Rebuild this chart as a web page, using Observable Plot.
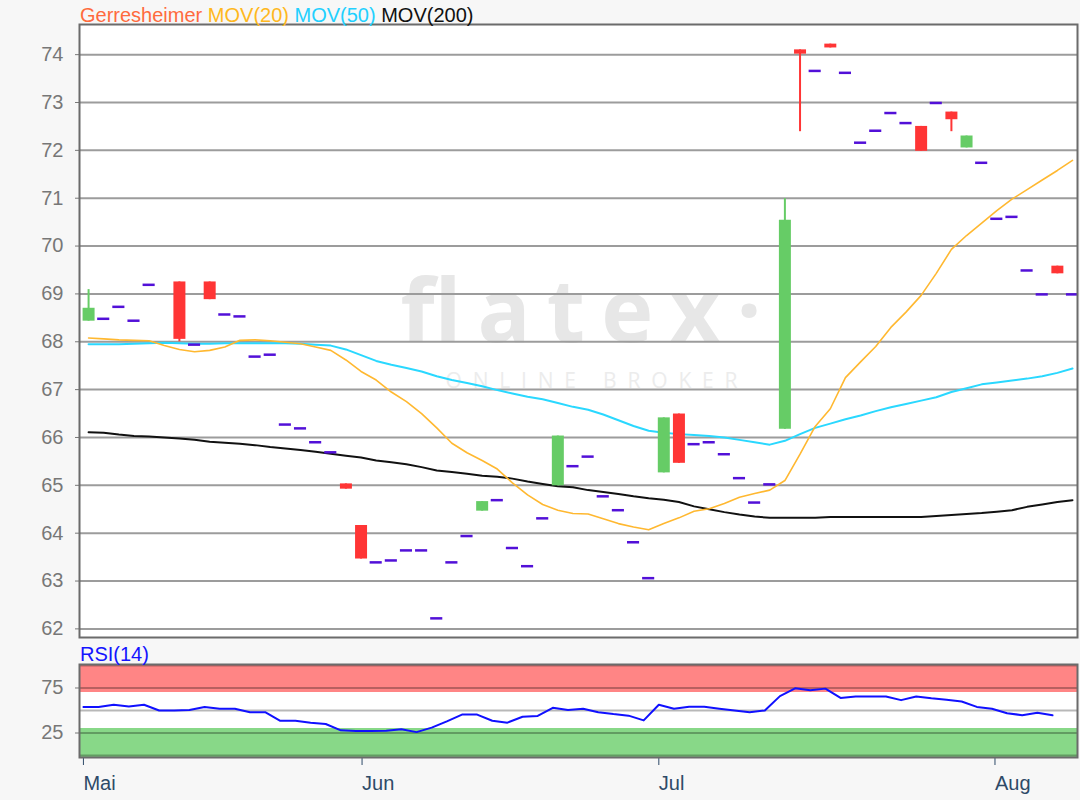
<!DOCTYPE html>
<html><head><meta charset="utf-8">
<script src="https://cdn.jsdelivr.net/npm/d3@7"></script>
<script src="https://cdn.jsdelivr.net/npm/@observablehq/plot@0.6"></script>
<style>
html,body{margin:0;padding:0;background:#f7f7f7;}
#root{position:relative;width:1080px;height:800px;font-family:"Liberation Sans",Arial,sans-serif;overflow:hidden;}
#main{position:absolute;left:0;top:0;}
#rsi{position:absolute;left:0;top:645px;}
#legend{position:absolute;left:80px;top:3px;font-size:20px;line-height:24px;white-space:nowrap;}
#rsilabel{position:absolute;left:80px;top:642px;font-size:20px;line-height:24px;color:#1414ff;}
</style></head>
<body><div id="root">
<div id="main"></div><div id="rsi"></div>
<div id="legend"></div><div id="rsilabel"></div>
</div>
<script>
// ---------- data ----------
const legendNames = ["Gerresheimer", "MOV(20)", "MOV(50)", "MOV(200)"];
const legendColors = ["#ff6a3d", "#ffb820", "#22d0ff", "#111111"];
const rsiTitle = "RSI(14)";
const watermark = ["flatex·", "ONLINE BROKER"];

// trading-day slot of each candle (slot 5 has no quote)
const days = [0,1,2,3,4,6,7,8,9,10,11,12,13,14,15,16,17,18,19,20,21,22,23,24,25,26,27,28,29,30,31,32,33,34,35,36,37,38,39,40,41,42,43,44,45,46,47,48,49,50,51,52,53,54,55,56,57,58,59,60,61,62,63,64,65];
const openV  = [68.43,68.48,68.73,68.44,69.19,69.25,67.94,69.25,68.57,68.53,67.69,67.73,66.27,66.19,65.90,65.69,65.03,64.16,63.39,63.43,63.64,63.64,62.22,63.39,63.94,64.46,64.69,63.69,63.31,64.31,64.99,65.40,65.60,64.77,64.48,63.81,63.06,65.26,66.49,65.86,65.90,65.65,65.15,64.64,65.02,66.17,74.10,73.66,74.22,73.62,72.16,72.41,72.78,72.57,72.50,72.99,72.80,72.05,71.74,70.57,70.61,69.49,68.99,69.58,68.99];
const highV  = [69.09,68.48,68.73,68.44,69.19,69.25,67.94,69.25,68.57,68.53,67.69,67.73,66.27,66.19,65.90,65.69,65.03,64.16,63.39,63.43,63.64,63.64,62.22,63.39,63.94,64.66,64.69,63.69,63.31,64.31,66.03,65.40,65.60,64.77,64.48,63.81,63.06,66.41,66.49,65.86,65.90,65.65,65.15,64.64,65.02,70.99,74.10,73.66,74.22,73.62,72.16,72.41,72.78,72.57,72.50,72.99,72.80,72.30,71.74,70.57,70.61,69.49,68.99,69.58,68.99];
const lowV   = [68.43,68.48,68.73,68.44,69.19,68.00,67.94,68.88,68.57,68.53,67.69,67.73,66.27,66.19,65.90,65.69,64.92,63.46,63.39,63.43,63.64,63.64,62.22,63.39,63.94,64.46,64.69,63.69,63.31,64.31,64.99,65.40,65.60,64.77,64.48,63.81,63.06,65.26,65.46,65.86,65.90,65.65,65.15,64.64,65.02,66.17,72.39,73.66,74.14,73.62,72.16,72.41,72.78,72.57,71.98,72.99,72.39,72.05,71.74,70.57,70.61,69.49,68.99,69.42,68.99];
const closeV = [68.70,68.48,68.73,68.44,69.19,68.05,67.94,68.88,68.57,68.53,67.69,67.73,66.27,66.19,65.90,65.69,64.92,63.46,63.39,63.43,63.64,63.64,62.22,63.39,63.94,64.66,64.69,63.69,63.31,64.31,66.03,65.40,65.60,64.77,64.48,63.81,63.06,66.41,65.46,65.86,65.90,65.65,65.15,64.64,65.02,70.54,74.01,73.66,74.14,73.62,72.16,72.41,72.78,72.57,71.98,72.99,72.64,72.30,71.74,70.57,70.61,69.49,68.99,69.42,68.99];

// moving averages, one value per slot 0..65
const ma20  = [68.08,68.06,68.04,68.03,68.02,67.92,67.84,67.79,67.82,67.89,68.03,68.04,68.02,67.99,67.96,67.89,67.82,67.62,67.38,67.20,66.95,66.75,66.50,66.20,65.88,65.68,65.52,65.34,65.05,64.80,64.60,64.48,64.41,64.40,64.30,64.20,64.13,64.07,64.20,64.32,64.46,64.51,64.62,64.75,64.83,64.90,65.10,65.65,66.23,66.60,67.25,67.58,67.90,68.30,68.62,68.97,69.43,69.93,70.22,70.48,70.74,70.98,71.18,71.38,71.58,71.79];
const ma50  = [67.95,67.95,67.95,67.96,67.97,67.98,67.97,67.96,67.96,67.97,67.97,67.97,67.97,67.97,67.96,67.94,67.92,67.84,67.72,67.60,67.52,67.45,67.38,67.28,67.20,67.14,67.07,66.99,66.92,66.85,66.80,66.72,66.64,66.58,66.48,66.36,66.24,66.14,66.10,66.07,66.05,66.03,66.00,65.95,65.90,65.85,65.93,66.07,66.20,66.29,66.38,66.46,66.55,66.63,66.70,66.77,66.84,66.95,67.03,67.11,67.15,67.19,67.23,67.28,67.35,67.44];
const ma200 = [66.11,66.10,66.06,66.03,66.02,66.00,65.98,65.95,65.91,65.89,65.87,65.84,65.80,65.77,65.74,65.70,65.66,65.62,65.58,65.52,65.48,65.44,65.38,65.31,65.28,65.24,65.20,65.18,65.14,65.08,65.03,64.98,64.96,64.90,64.86,64.82,64.77,64.73,64.70,64.65,64.56,64.50,64.44,64.39,64.35,64.32,64.32,64.32,64.32,64.34,64.34,64.34,64.34,64.34,64.34,64.34,64.36,64.38,64.40,64.42,64.45,64.48,64.55,64.60,64.65,64.69];

// RSI(14), slots 0..64
const rsi = [53.8,53.8,56.4,54.5,56.4,50,50,50.5,54,51.9,51.9,48.1,48.1,38.6,38.6,36.4,35,28,27.3,27.3,27.5,29.2,26,31,38,45.5,45.5,38.6,36.5,43,44,53,50.5,51.9,48.1,46,44.3,39,56.4,51.9,54.2,54.2,52,50,48.1,50,66,74.6,72.5,74.3,64,65.5,65.5,65.5,61.5,65.5,63.5,62,60,54,51.9,47,44.8,47.5,44.7];

const priceTicks = [62,63,64,65,66,67,68,69,70,71,72,73,74];
const priceDomain = [61.82, 74.63];
const mainXDomain = [-0.6, 65.33];
const rsiXDomain = [-0.26, 65.65];
const rsiDomain = [-2.2, 101.1];
const rsiTicks = [25, 75];
const rsiGrid = [0, 25, 50, 75, 100];
const overbought = [70, 101.1];
const oversold = [-2.2, 30];
const monthLabels = ["Mai", "Jun", "Jul", "Aug"];
const monthPos = [0, 18.4, 38, 60.2];

// ---------- build ----------
const FONT = '"Liberation Sans", Arial, sans-serif';
const GREEN = "#66cc66", RED = "#ff3535", DASH = "#5210d8";

const candles = days.map((d, k) => ({i: d, o: openV[k], h: highV[k], l: lowV[k], c: closeV[k]}));
const ups = candles.filter(d => d.c > d.o);
const downs = candles.filter(d => d.c < d.o);
const flats = candles.filter(d => d.c === d.o);
const maRows = ma20.map((v, i) => ({i, m20: v, m50: ma50[i], m200: ma200[i]}));
const rsiRows = rsi.map((v, i) => ({i, v}));

const legend = document.getElementById("legend");
legendNames.forEach((n, k) => {
  const s = document.createElement("span");
  s.textContent = n;
  s.style.color = legendColors[k];
  legend.appendChild(s);
  if (k < legendNames.length - 1) legend.appendChild(document.createTextNode(" "));
});
document.getElementById("rsilabel").textContent = rsiTitle;

const mainPlot = Plot.plot({
  width: 1080, height: 645,
  marginLeft: 79, marginRight: 3, marginTop: 24, marginBottom: 8,
  style: {background: "transparent", fontFamily: FONT, fontSize: "20px", color: "#777"},
  x: {domain: mainXDomain, axis: null},
  y: {domain: priceDomain, ticks: priceTicks, tickSize: 4, tickPadding: 12, label: null, tickFormat: d => String(d)},
  marks: [
    Plot.frame({fill: "white"}),
    Plot.text(watermark.slice(0, 1), {text: d => d, frameAnchor: "middle", dx: -178, dy: -17, textAnchor: "start",
      fontSize: 88, fontWeight: 700, fontFamily: '"Open Sans", sans-serif', fill: "#e7e7e7"}),
    Plot.text(watermark.slice(1), {text: d => d, frameAnchor: "middle", dx: -133, dy: 50, textAnchor: "start",
      fontSize: 21, fontFamily: '"Open Sans", sans-serif', fill: "#ececec"}),
    Plot.ruleY(priceTicks, {stroke: "#9c9c9c", strokeWidth: 2}),
    Plot.line(maRows, {x: "i", y: "m200", stroke: "#111", strokeWidth: 2}),
    Plot.line(maRows, {x: "i", y: "m50", stroke: "#2ad8ff", strokeWidth: 2}),
    Plot.line(maRows, {x: "i", y: "m20", stroke: "#ffb830", strokeWidth: 1.6}),
    Plot.ruleX(ups, {x: "i", y1: "l", y2: "h", stroke: GREEN, strokeWidth: 2}),
    Plot.ruleX(downs, {x: "i", y1: "l", y2: "h", stroke: RED, strokeWidth: 2}),
    Plot.ruleX(ups, {x: "i", y1: "o", y2: "c", stroke: GREEN, strokeWidth: 12}),
    Plot.ruleX(downs, {x: "i", y1: "o", y2: "c", stroke: RED, strokeWidth: 12}),
    Plot.ruleY(flats, {y: "c", x1: d => d.i - 0.4, x2: d => d.i + 0.4, stroke: DASH, strokeWidth: 2.5}),
    Plot.frame({stroke: "#6b6b6b", strokeWidth: 2})
  ]
});
document.getElementById("main").appendChild(mainPlot);
const wmLength = {"flatex·": 361, "ONLINE BROKER": 292};
d3.select(mainPlot).selectAll("text").filter(function () { return this.textContent in wmLength; })
  .each(function () { d3.select(this).attr("textLength", wmLength[this.textContent]).attr("lengthAdjust", "spacing"); });

const rsiPlot = Plot.plot({
  width: 1080, height: 155,
  marginLeft: 79, marginRight: 3, marginTop: 19, marginBottom: 43,
  style: {background: "transparent", fontFamily: FONT, fontSize: "20px", color: "#777"},
  x: {domain: rsiXDomain, ticks: monthPos, tickSize: 8, tickFormat: () => "", label: null},
  y: {domain: rsiDomain, ticks: rsiTicks, tickSize: 4, tickPadding: 12, label: null, tickFormat: d => String(d)},
  marks: [
    Plot.frame({fill: "white"}),
    Plot.rect([overbought], {x1: () => rsiXDomain[0], x2: () => rsiXDomain[1], y1: d => d[0], y2: d => d[1], fill: "#ff8585"}),
    Plot.rect([oversold], {x1: () => rsiXDomain[0], x2: () => rsiXDomain[1], y1: d => d[0], y2: d => d[1], fill: "#88d888"}),
    Plot.ruleY(rsiGrid, {stroke: "#000", strokeOpacity: 0.28, strokeWidth: 2}),
    Plot.line(rsiRows, {x: "i", y: "v", stroke: "#1010ff", strokeWidth: 2}),
    Plot.text(monthLabels, {x: (d, k) => monthPos[k], text: d => d, frameAnchor: "bottom", dy: 18, lineAnchor: "top",
      textAnchor: "start", fill: "#2e4a68", fontSize: 20}),
    Plot.frame({stroke: "#6b6b6b", strokeWidth: 2})
  ]
});
document.getElementById("rsi").appendChild(rsiPlot);
d3.select(rsiPlot).selectAll('[aria-label^="x-axis"]').style("color", "#2e4a68");
</script>
</body></html>
